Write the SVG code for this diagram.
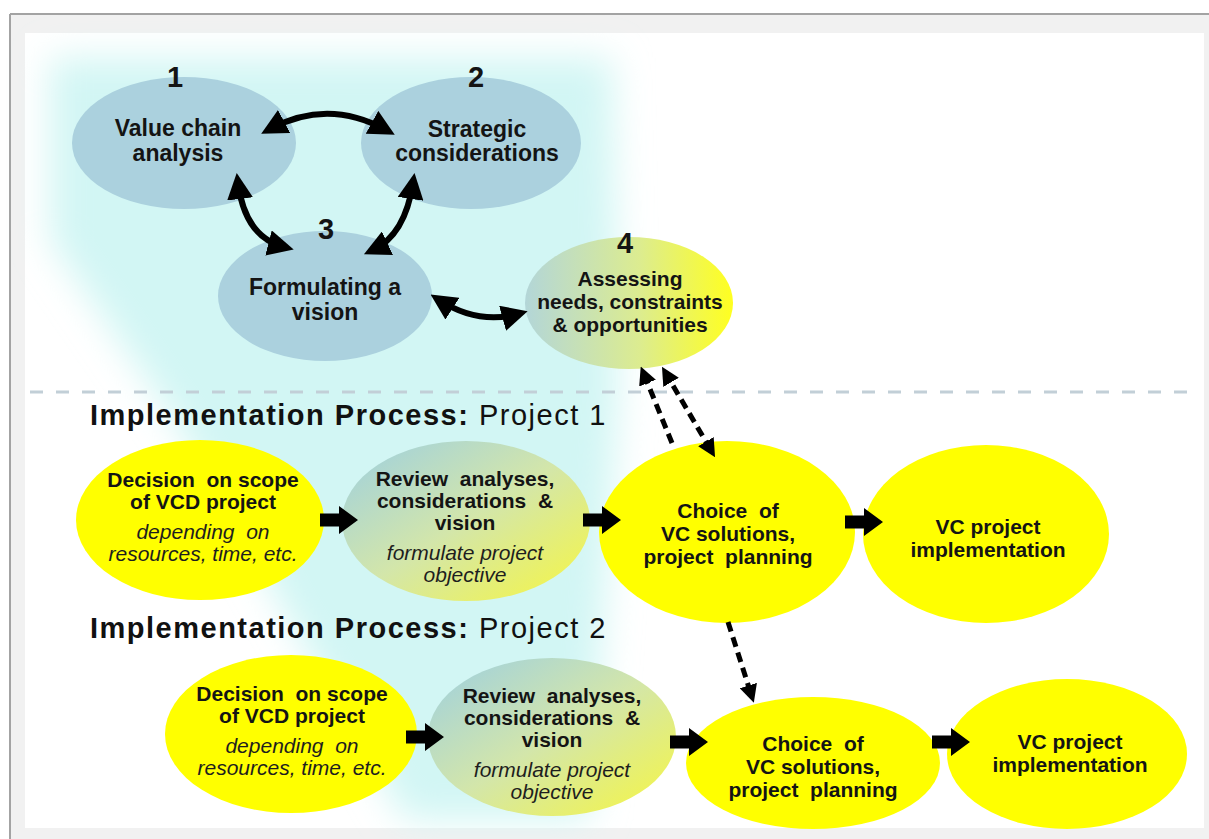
<svg xmlns="http://www.w3.org/2000/svg" width="1209" height="839" viewBox="0 0 1209 839">
<style>
.lbl{font-family:"Liberation Sans",Arial,sans-serif;font-weight:bold;fill:#141414;text-anchor:middle}
.top{font-size:23px}
.n4{font-size:21px}
.num{font-family:"Liberation Sans",Arial,sans-serif;font-weight:bold;fill:#141414;text-anchor:middle;font-size:29px}
.row{font-size:21px}
.it{font-family:"Liberation Sans",Arial,sans-serif;font-style:italic;fill:#1e1e1e;text-anchor:middle;font-size:21px}
.head{font-family:"Liberation Sans",Arial,sans-serif;font-size:29px;letter-spacing:1.5px;fill:#111}
.blue{fill:#abd1de}
.yel{fill:#ffff00}
.curve{fill:none;stroke:#000;stroke-width:6}
.dash{fill:none;stroke:#000;stroke-width:5;stroke-dasharray:10 6}
</style>
<defs>
<filter id="glow" x="-30%" y="-30%" width="160%" height="160%"><feGaussianBlur stdDeviation="18"/></filter>
<linearGradient id="gRev" x1="0" y1="0" x2="1" y2="1">
<stop offset="0" stop-color="#9ccfe2"/><stop offset="0.5" stop-color="#d3e6aa"/><stop offset="1" stop-color="#f7f740"/>
</linearGradient>
<linearGradient id="gAss" x1="0" y1="0" x2="1" y2="0">
<stop offset="0" stop-color="#b3d6d8"/><stop offset="0.55" stop-color="#dcec90"/><stop offset="1" stop-color="#ffff20"/>
</linearGradient>
<marker id="bh" markerUnits="userSpaceOnUse" markerWidth="26" markerHeight="26" refX="16" refY="13" orient="auto-start-reverse"><path d="M0,0 L26,13 L0,26 z" fill="#000"/></marker>
<marker id="dh" markerUnits="userSpaceOnUse" markerWidth="18" markerHeight="18" refX="12" refY="9" orient="auto-start-reverse"><path d="M0,0 L18,9 L0,18 z" fill="#000"/></marker>
<path id="blk" d="M0,-6.5 H19 V-14 L38,0 L19,14 V6.5 H0 Z" fill="#000"/>
</defs>
<rect x="0" y="0" width="1209" height="839" fill="#ffffff"/>
<rect x="10" y="14" width="1199" height="825" fill="#f1f1f1"/>
<line x1="10" y1="14" x2="1209" y2="14" stroke="#a3a3a3" stroke-width="2"/>
<line x1="10" y1="14" x2="10" y2="839" stroke="#a3a3a3" stroke-width="2"/>
<rect x="25" y="33" width="1179" height="795" fill="#ffffff"/>
<g id="background">
<polygon points="50,58 612,58 618,395 590,820 405,820 175,420 50,240" fill="#d2f6f4" filter="url(#glow)"/>
</g>
<line x1="30" y1="392" x2="1195" y2="392" stroke="#c2cfd7" stroke-width="3" stroke-dasharray="13 13"/>
<g id="n1"><ellipse class="blue" cx="184" cy="143" rx="112" ry="66"/>
<text class="num" x="175" y="87">1</text>
<text class="lbl top" x="178" y="136">Value chain</text><text class="lbl top" x="178" y="161">analysis</text></g>
<g id="n2"><ellipse class="blue" cx="471" cy="143" rx="110" ry="66"/>
<text class="num" x="476" y="87">2</text>
<text class="lbl top" x="477" y="137">Strategic</text><text class="lbl top" x="477" y="161">considerations</text></g>
<g id="n3"><ellipse class="blue" cx="325" cy="296" rx="107" ry="65"/>
<text class="num" x="326" y="239">3</text>
<text class="lbl top" x="325" y="295">Formulating a</text><text class="lbl top" x="325" y="320">vision</text></g>
<g id="n4"><ellipse fill="url(#gAss)" cx="629" cy="303" rx="104" ry="66"/>
<text class="num" x="625" y="253">4</text>
<text class="lbl n4" x="630" y="286">Assessing</text>
<text class="lbl n4" x="630" y="309">needs, constraints</text>
<text class="lbl n4" x="630" y="332">&amp; opportunities</text></g>
<g id="h1"><text class="head" x="90" y="425"><tspan font-weight="bold">Implementation  Process:</tspan> Project 1</text></g>
<g id="h2"><text class="head" x="90" y="638"><tspan font-weight="bold">Implementation  Process:</tspan> Project 2</text></g>
<g id="p1dec"><ellipse class="yel" cx="200" cy="520" rx="124" ry="80"/>
<text class="lbl row" x="203" y="487" xml:space="preserve">Decision  on scope</text>
<text class="lbl row" x="203" y="509">of VCD project</text>
<text class="it" x="203" y="539" xml:space="preserve">depending  on</text>
<text class="it" x="203" y="561">resources, time, etc.</text></g>
<g id="p1rev"><ellipse fill="url(#gRev)" cx="466" cy="521" rx="124" ry="80"/>
<text class="lbl row" x="465" y="486" xml:space="preserve">Review  analyses,</text>
<text class="lbl row" x="465" y="508" xml:space="preserve">considerations  &amp;</text>
<text class="lbl row" x="465" y="530">vision</text>
<text class="it" x="465" y="560">formulate project</text>
<text class="it" x="465" y="582">objective</text></g>
<g id="p1cho"><ellipse class="yel" cx="727" cy="532" rx="128" ry="91"/>
<text class="lbl row" x="728" y="518" xml:space="preserve">Choice  of</text>
<text class="lbl row" x="728" y="541">VC solutions,</text>
<text class="lbl row" x="728" y="564" xml:space="preserve">project  planning</text></g>
<g id="p1imp"><ellipse class="yel" cx="986" cy="534" rx="123" ry="89"/>
<text class="lbl row" x="988" y="534">VC project</text>
<text class="lbl row" x="988" y="557">implementation</text></g>
<g id="p2dec"><ellipse class="yel" cx="291" cy="734" rx="126" ry="79"/>
<text class="lbl row" x="292" y="701" xml:space="preserve">Decision  on scope</text>
<text class="lbl row" x="292" y="723">of VCD project</text>
<text class="it" x="292" y="753" xml:space="preserve">depending  on</text>
<text class="it" x="292" y="775">resources, time, etc.</text></g>
<g id="p2rev"><ellipse fill="url(#gRev)" cx="552" cy="737" rx="124" ry="79"/>
<text class="lbl row" x="552" y="703" xml:space="preserve">Review  analyses,</text>
<text class="lbl row" x="552" y="725" xml:space="preserve">considerations  &amp;</text>
<text class="lbl row" x="552" y="747">vision</text>
<text class="it" x="552" y="777">formulate project</text>
<text class="it" x="552" y="799">objective</text></g>
<g id="p2cho"><ellipse class="yel" cx="813" cy="763" rx="127" ry="66"/>
<text class="lbl row" x="813" y="751" xml:space="preserve">Choice  of</text>
<text class="lbl row" x="813" y="774">VC solutions,</text>
<text class="lbl row" x="813" y="797" xml:space="preserve">project  planning</text></g>
<g id="p2imp"><ellipse class="yel" cx="1067" cy="754" rx="120" ry="75"/>
<text class="lbl row" x="1070" y="749">VC project</text>
<text class="lbl row" x="1070" y="772">implementation</text></g>
<g id="connectors">
<path class="curve" d="M270 129 Q328 98 386 130" marker-start="url(#bh)" marker-end="url(#bh)"/>
<path class="curve" d="M238 183 Q245 237 284 247" marker-start="url(#bh)" marker-end="url(#bh)"/>
<path class="curve" d="M413 183 Q405 235 373 250" marker-start="url(#bh)" marker-end="url(#bh)"/>
<path class="curve" d="M439 300 Q478 325 518 314" marker-start="url(#bh)" marker-end="url(#bh)"/>
<path class="dash" d="M672 443 L643 372" marker-end="url(#dh)"/>
<path class="dash" d="M665 372 L712 452" marker-start="url(#dh)" marker-end="url(#dh)"/>
<path class="dash" d="M728 622 L752 697" marker-end="url(#dh)"/>
<use href="#blk" x="320" y="520"/>
<use href="#blk" x="583" y="520"/>
<use href="#blk" x="845" y="522"/>
<use href="#blk" x="406" y="737"/>
<use href="#blk" x="670" y="742"/>
<use href="#blk" x="932" y="742"/>
</g>
</svg>
